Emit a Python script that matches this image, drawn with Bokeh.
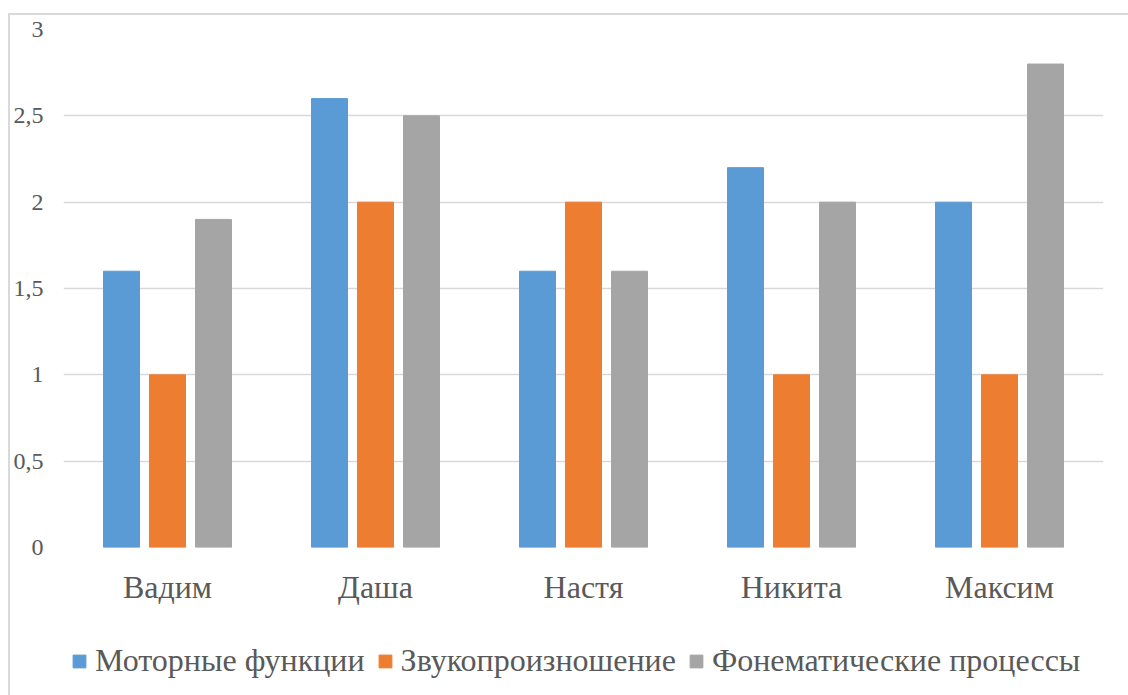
from bokeh.plotting import figure
from bokeh.layouts import column
from bokeh.models import ColumnDataSource, FactorRange, Legend, LegendItem
from bokeh.transform import dodge
from bokeh.embed import file_html
from bokeh.resources import INLINE

names = ["Вадим", "Даша", "Настя", "Никита", "Максим"]
series = ["Моторные функции", "Звукопроизношение", "Фонематические процессы"]
motor = [1.6, 2.6, 1.6, 2.2, 2.0]
sound = [1.0, 2.0, 2.0, 1.0, 1.0]
phon = [1.9, 2.5, 1.6, 2.0, 2.8]
colors = ["#5B9BD5", "#ED7D31", "#A5A5A5"]
y_ticks = [0, 0.5, 1, 1.5, 2, 2.5, 3]

FONT = "Liberation Serif"
TXT = "#595959"

src = ColumnDataSource(dict(name=names, motor=motor, sound=sound, phon=phon))

p = figure(x_range=FactorRange(*names), y_range=(0, 3),
           width=1118, height=607, output_backend="svg", toolbar_location=None,
           min_border_left=53, min_border_right=25, min_border_top=14, min_border_bottom=75)
p.outline_line_color = None
p.x_range.range_padding = 0
p.x_range.group_padding = 0

w = 36 / 208
off = 46 / 208
p.vbar(x=dodge("name", -off, range=p.x_range), top="motor", width=w, source=src, color=colors[0])
p.vbar(x=dodge("name", 0, range=p.x_range), top="sound", width=w, source=src, color=colors[1])
p.vbar(x=dodge("name", off, range=p.x_range), top="phon", width=w, source=src, color=colors[2])

p.xgrid.grid_line_color = None
p.ygrid.grid_line_color = "#D9D9D9"
p.ygrid.grid_line_width = 1.5
p.yaxis.ticker = y_ticks
p.yaxis.major_label_overrides = {0: "0", 0.5: "0,5", 1: "1", 1.5: "1,5", 2: "2", 2.5: "2,5", 3: "3"}

for ax in (p.xaxis[0], p.yaxis[0]):
    ax.axis_line_color = None
    ax.major_tick_line_color = None
    ax.minor_tick_line_color = None
    ax.major_tick_out = 0
    ax.major_tick_in = 0
    ax.major_label_text_font = FONT
    ax.major_label_text_color = TXT

p.yaxis.major_label_text_font_size = "24px"
p.yaxis.major_label_standoff = 20
p.xaxis.major_label_text_font_size = "32px"
p.xaxis.major_label_standoff = 21

# legend-only strip below the chart
lg = figure(width=1118, height=73, x_range=(0, 1), y_range=(0, 1),
            x_axis_location=None, y_axis_location=None,
            output_backend="svg", toolbar_location=None,
            min_border_left=0, min_border_right=0, min_border_top=0, min_border_bottom=0)
lg.grid.visible = False
lg.outline_line_color = None
items = []
for s, c in zip(series, colors):
    r = lg.vbar(x=[0.5], bottom=[-6], top=[-5], width=0.1, color=c)
    items.append(LegendItem(label=s, renderers=[r]))

legend = Legend(items=items, orientation="horizontal", location=(8, 16),
                glyph_width=16, glyph_height=16, label_standoff=8, spacing=12,
                label_text_font=FONT, label_text_font_size="32px", label_text_color=TXT,
                background_fill_alpha=0, border_line_color=None, padding=4, margin=0)
lg.add_layout(legend)

layout = column(p, lg, spacing=0)
layout.styles = {"margin-left": "8px", "margin-top": "13px",
                 "border-left": "2px solid #D9D9D9", "border-top": "2px solid #D9D9D9"}

open("out.html", "w").write(file_html(layout, INLINE))
